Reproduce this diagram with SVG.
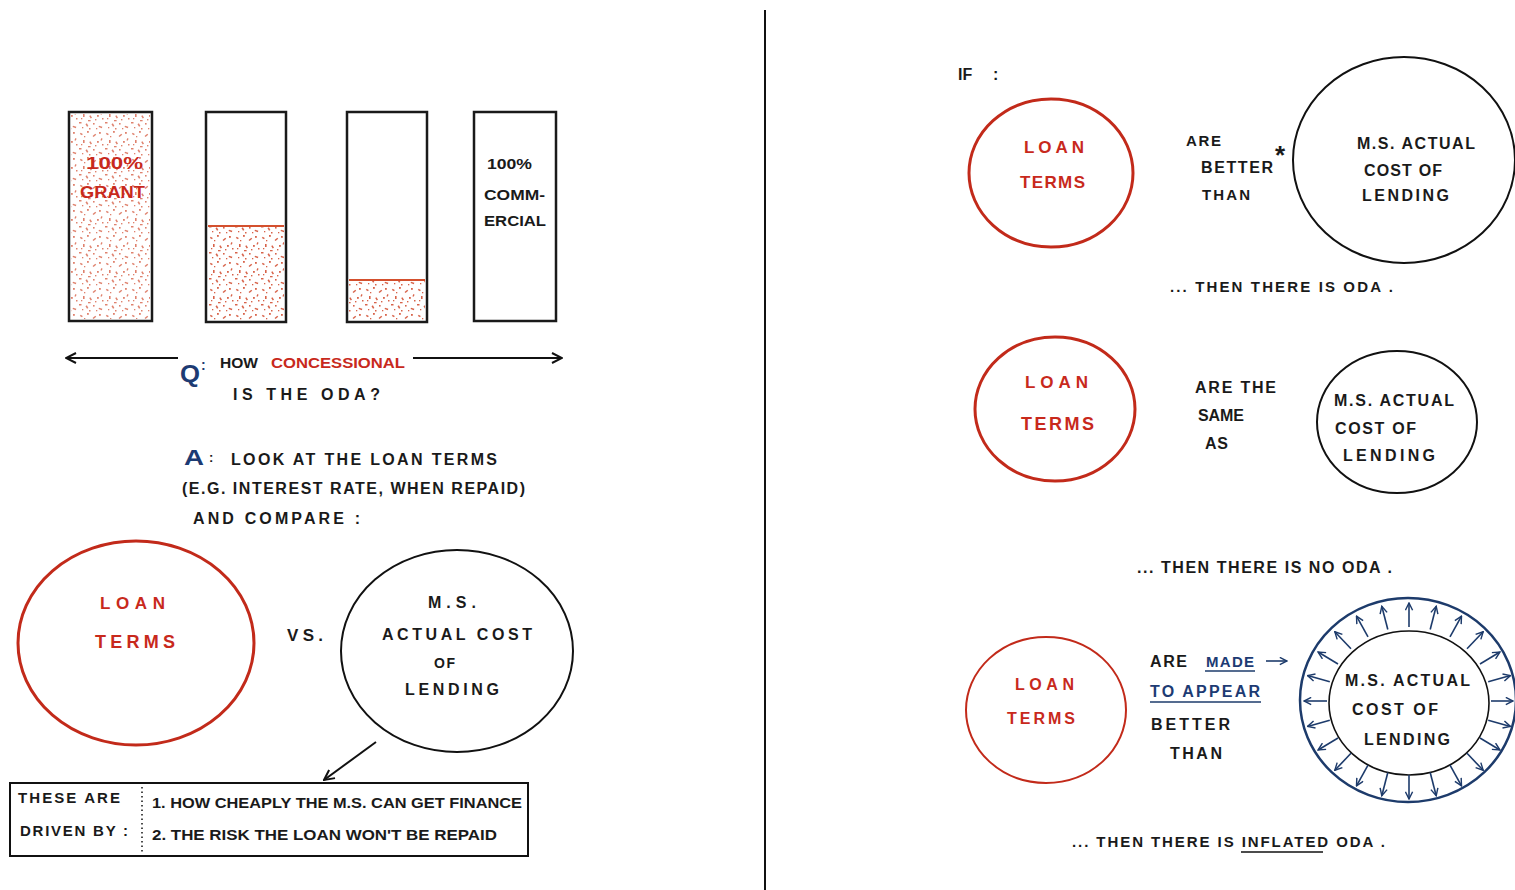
<svg xmlns="http://www.w3.org/2000/svg" width="1515" height="890" viewBox="0 0 1515 890">
<style>
.t{font-family:"Liberation Sans",Arial,sans-serif;font-weight:bold;fill:#1a1a1a;}
.r{fill:#c8291c;}
.b{fill:#1d3b73;}
.bar{fill:#fff;stroke:#1a1a1a;stroke-width:2.5;}
.rc{fill:none;stroke:#c22a1a;stroke-width:3;}
.kc{fill:none;stroke:#111;stroke-width:2;}
.ln{stroke:#111;stroke-width:2;fill:none;}
.bl{stroke:#1d3b6b;stroke-width:1.6;fill:none;}
</style>
<defs>
<pattern id="stip" width="26" height="26" patternUnits="userSpaceOnUse">
<g fill="#d0472a" opacity="0.85">
<rect x="2" y="3" width="2.5" height="1.6" transform="rotate(30 3 4)"/>
<rect x="9" y="1" width="1.8" height="1.8"/>
<rect x="15" y="5" width="3.5" height="1.5" transform="rotate(-40 16 6)"/>
<rect x="21" y="2" width="1.8" height="1.8"/>
<rect x="5" y="10" width="1.6" height="3"/>
<rect x="12" y="12" width="3" height="1.5" transform="rotate(60 13 12)"/>
<rect x="19" y="11" width="1.8" height="1.8"/>
<rect x="24" y="14" width="1.5" height="1.5"/>
<rect x="1" y="18" width="2.5" height="1.5"/>
<rect x="8" y="20" width="1.6" height="3" transform="rotate(-30 8 21)"/>
<rect x="15" y="19" width="1.6" height="1.6"/>
<rect x="21" y="22" width="3.5" height="1.5" transform="rotate(20 22 22)"/>
<rect x="11" y="24" width="1.5" height="1.5"/>
<rect x="17" y="15" width="1.4" height="1.4"/>
<rect x="6" y="6" width="1.3" height="1.3"/>
<rect x="23" y="8" width="1.3" height="2.4" transform="rotate(25 23 9)"/>
<rect x="3" y="14" width="1.3" height="1.3"/>
<rect x="10" y="16" width="2.6" height="1.3"/>
<rect x="4" y="23" width="1.3" height="1.3"/>
<rect x="18" y="24" width="1.3" height="1.3"/>
</g>
</pattern>
<marker id="ah" viewBox="0 0 12 12" refX="11" refY="6" markerWidth="12" markerHeight="12" markerUnits="userSpaceOnUse" orient="auto-start-reverse">
<path d="M1 1 L11 6 L1 11" fill="none" stroke="#111" stroke-width="2"/>
</marker>
<marker id="bh" viewBox="0 0 10 10" refX="9" refY="5" markerWidth="9" markerHeight="9" markerUnits="userSpaceOnUse" orient="auto">
<path d="M1 1 L9 5 L1 9" fill="none" stroke="#1d3b6b" stroke-width="1.6"/>
</marker>
</defs>
<rect width="1515" height="890" fill="#fff"/>
<line x1="765" y1="10" x2="765" y2="890" stroke="#111" stroke-width="2"/>

<g id="bar1">
<rect class="bar" x="69" y="112" width="83" height="209"/>
<rect x="71" y="114" width="79" height="205" fill="url(#stip)" opacity="0.8"/>
<text class="t r" x="86" y="169" font-size="16" textLength="57" lengthAdjust="spacingAndGlyphs">100%</text>
<text class="t r" x="80" y="198" font-size="16" textLength="65" lengthAdjust="spacingAndGlyphs">GRANT</text>
</g>
<g id="bar2">
<rect class="bar" x="206" y="112" width="80" height="210"/>
<rect x="208" y="226" width="76" height="94" fill="url(#stip)"/>
<line x1="208" y1="226" x2="284" y2="226" stroke="#d4502e" stroke-width="2"/>
</g>
<g id="bar3">
<rect class="bar" x="347" y="112" width="80" height="210"/>
<rect x="349" y="280" width="76" height="40" fill="url(#stip)"/>
<line x1="349" y1="280" x2="425" y2="280" stroke="#d4502e" stroke-width="2"/>
</g>
<g id="bar4">
<rect class="bar" x="474" y="112" width="82" height="209"/>
<text class="t" x="487" y="169" font-size="14" textLength="45" lengthAdjust="spacingAndGlyphs">100%</text>
<text class="t" x="484" y="200" font-size="14" textLength="61" lengthAdjust="spacingAndGlyphs">COMM-</text>
<text class="t" x="484" y="226" font-size="14" textLength="62" lengthAdjust="spacingAndGlyphs">ERCIAL</text>
</g>

<g id="question">
<text class="t b" x="180" y="382" font-size="24" textLength="20" lengthAdjust="spacingAndGlyphs">Q</text>
<text class="t b" x="201" y="370" font-size="14">:</text>
<text class="t" x="220" y="368" font-size="14" textLength="38" lengthAdjust="spacingAndGlyphs">HOW</text>
<text class="t r" x="271" y="368" font-size="14" textLength="134" lengthAdjust="spacingAndGlyphs">CONCESSIONAL</text>
<text class="t" x="233" y="400" font-size="16" textLength="147" lengthAdjust="spacing">IS THE ODA?</text>
</g>
<g id="answer">
<text class="t b" x="184" y="465" font-size="22" textLength="20" lengthAdjust="spacingAndGlyphs">A</text>
<text class="t" x="209" y="462" font-size="13">:</text>
<text class="t" x="231" y="465" font-size="16" textLength="266" lengthAdjust="spacing">LOOK AT THE LOAN TERMS</text>
<text class="t" x="182" y="494" font-size="16" textLength="343" lengthAdjust="spacing">(E.G. INTEREST RATE, WHEN REPAID)</text>
<text class="t" x="193" y="524" font-size="16" textLength="167" lengthAdjust="spacing">AND COMPARE :</text>
</g>

<g id="loan-terms-left">
<ellipse class="rc" cx="136" cy="643" rx="118" ry="102"/>
<text class="t r" x="100" y="609" font-size="17" textLength="65" lengthAdjust="spacing">LOAN</text>
<text class="t r" x="95" y="648" font-size="18" textLength="80" lengthAdjust="spacing">TERMS</text>
</g>
<text class="t" x="287" y="641" font-size="17" textLength="36" lengthAdjust="spacing">VS.</text>
<g id="cost-left">
<ellipse class="kc" cx="457" cy="651" rx="116" ry="101"/>
<text class="t" x="428" y="608" font-size="16" textLength="48" lengthAdjust="spacing">M.S.</text>
<text class="t" x="382" y="640" font-size="16" textLength="150" lengthAdjust="spacing">ACTUAL COST</text>
<text class="t" x="434" y="668" font-size="14" textLength="21" lengthAdjust="spacing">OF</text>
<text class="t" x="405" y="695" font-size="16" textLength="94" lengthAdjust="spacing">LENDING</text>
</g>
<g id="drivers">
<rect x="10" y="783" width="518" height="73" fill="none" stroke="#111" stroke-width="2"/>
<line x1="142" y1="787" x2="142" y2="852" stroke="#111" stroke-width="1.5" stroke-dasharray="1.5 3"/>
<text class="t" x="18" y="803" font-size="15" textLength="102" lengthAdjust="spacing">THESE ARE</text>
<text class="t" x="20" y="836" font-size="15" textLength="108" lengthAdjust="spacing">DRIVEN BY :</text>
<text class="t" x="152" y="808" font-size="15" textLength="370" lengthAdjust="spacingAndGlyphs">1. HOW CHEAPLY THE M.S. CAN GET FINANCE</text>
<text class="t" x="152" y="840" font-size="15" textLength="345" lengthAdjust="spacingAndGlyphs">2. THE RISK THE LOAN WON'T BE REPAID</text>
</g>

<g id="if-label"><text class="t" x="958" y="80" font-size="16"><tspan>IF</tspan><tspan x="993">:</tspan></text></g>

<g id="loan1">
<ellipse class="rc" cx="1051" cy="173" rx="82" ry="74"/>
<text class="t r" x="1024" y="153" font-size="17" textLength="60" lengthAdjust="spacing">LOAN</text>
<text class="t r" x="1020" y="188" font-size="17" textLength="65" lengthAdjust="spacing">TERMS</text>
</g>
<g id="rel1">
<text class="t" x="1186" y="146" font-size="15" textLength="35" lengthAdjust="spacing">ARE</text>
<text class="t" x="1201" y="173" font-size="16" textLength="72" lengthAdjust="spacing">BETTER</text>
<text class="t" x="1202" y="200" font-size="15" textLength="48" lengthAdjust="spacing">THAN</text>
<text class="t" x="1275" y="164" font-size="26">*</text>
</g>
<g id="cost1">
<ellipse class="kc" cx="1404" cy="160" rx="111" ry="103"/>
<text class="t" x="1357" y="149" font-size="16" textLength="118" lengthAdjust="spacing">M.S. ACTUAL</text>
<text class="t" x="1364" y="176" font-size="16" textLength="78" lengthAdjust="spacing">COST OF</text>
<text class="t" x="1362" y="201" font-size="16" textLength="87" lengthAdjust="spacing">LENDING</text>
</g>
<g id="result1"><text class="t" x="1170" y="292" font-size="15" textLength="223" lengthAdjust="spacing">... THEN THERE IS ODA .</text></g>

<g id="loan2">
<ellipse class="rc" cx="1055" cy="409" rx="80" ry="72"/>
<text class="t r" x="1025" y="388" font-size="17" textLength="63" lengthAdjust="spacing">LOAN</text>
<text class="t r" x="1021" y="430" font-size="18" textLength="73" lengthAdjust="spacing">TERMS</text>
</g>
<g id="rel2">
<text class="t" x="1195" y="393" font-size="16" textLength="81" lengthAdjust="spacing">ARE THE</text>
<text class="t" x="1198" y="421" font-size="16" textLength="46" lengthAdjust="spacing">SAME</text>
<text class="t" x="1205" y="449" font-size="16" textLength="23" lengthAdjust="spacing">AS</text>
</g>
<g id="cost2">
<ellipse class="kc" cx="1397" cy="422" rx="80" ry="71"/>
<text class="t" x="1334" y="406" font-size="16" textLength="120" lengthAdjust="spacing">M.S. ACTUAL</text>
<text class="t" x="1335" y="434" font-size="16" textLength="81" lengthAdjust="spacing">COST OF</text>
<text class="t" x="1343" y="461" font-size="16" textLength="92" lengthAdjust="spacing">LENDING</text>
</g>
<g id="result2"><text class="t" x="1137" y="573" font-size="16" textLength="255" lengthAdjust="spacing">... THEN THERE IS NO ODA .</text></g>

<g id="loan3">
<ellipse cx="1046" cy="710" rx="80" ry="73" fill="none" stroke="#c22a1a" stroke-width="2"/>
<text class="t r" x="1015" y="690" font-size="16" textLength="59" lengthAdjust="spacing">LOAN</text>
<text class="t r" x="1007" y="724" font-size="16" textLength="68" lengthAdjust="spacing">TERMS</text>
</g>
<g id="rel3">
<text class="t" x="1150" y="667" font-size="16" textLength="37" lengthAdjust="spacing">ARE</text>
<text class="t b" x="1206" y="667" font-size="15" textLength="48" lengthAdjust="spacing">MADE</text>
<line class="bl" x1="1205" y1="671" x2="1255" y2="671"/>
<text class="t b" x="1150" y="697" font-size="16" textLength="110" lengthAdjust="spacing">TO APPEAR</text>
<line class="bl" x1="1150" y1="702" x2="1261" y2="702"/>
<text class="t" x="1151" y="730" font-size="16" textLength="79" lengthAdjust="spacing">BETTER</text>
<text class="t" x="1170" y="759" font-size="16" textLength="52" lengthAdjust="spacing">THAN</text>
</g>
<g id="cost3">
<ellipse cx="1408" cy="700" rx="108" ry="102" fill="none" stroke="#1d3b6b" stroke-width="2.5"/>
<ellipse cx="1409" cy="703" rx="80" ry="72" fill="none" stroke="#111" stroke-width="1.6"/>
<text class="t" x="1345" y="686" font-size="16" textLength="125" lengthAdjust="spacing">M.S. ACTUAL</text>
<text class="t" x="1352" y="715" font-size="16" textLength="86" lengthAdjust="spacing">COST OF</text>
<text class="t" x="1364" y="745" font-size="16" textLength="86" lengthAdjust="spacing">LENDING</text>
</g>
<g id="result3">
<text class="t" x="1072" y="847" font-size="15" textLength="313" lengthAdjust="spacing">... THEN THERE IS INFLATED ODA .</text>
<line x1="1241" y1="852" x2="1323" y2="852" stroke="#111" stroke-width="1.5"/>
</g>

<g id="connectors">
<line class="ln" x1="66" y1="358" x2="178" y2="358" marker-start="url(#ah)"/>
<line class="ln" x1="413" y1="358" x2="562" y2="358" marker-end="url(#ah)"/>
<line class="ln" x1="376" y1="742" x2="324" y2="780" marker-end="url(#ah)"/>
<line class="bl" x1="1266" y1="661" x2="1287" y2="661" marker-end="url(#bh)"/>
<g marker-end="url(#bh)">
<line class="bl" x1="1491" y1="701" x2="1513" y2="701"/>
<line class="bl" x1="1488.2" y1="720.2" x2="1510.4" y2="726.4"/>
<line class="bl" x1="1480" y1="738" x2="1499.9" y2="750"/>
<line class="bl" x1="1467" y1="753.3" x2="1483.2" y2="770.3"/>
<line class="bl" x1="1450" y1="765.1" x2="1461.5" y2="785.9"/>
<line class="bl" x1="1430.2" y1="772.5" x2="1436.2" y2="795.7"/>
<line class="bl" x1="1409" y1="775" x2="1409" y2="799"/>
<line class="bl" x1="1387.8" y1="772.5" x2="1381.8" y2="795.7"/>
<line class="bl" x1="1368" y1="765.1" x2="1356.5" y2="785.9"/>
<line class="bl" x1="1351" y1="753.3" x2="1334.8" y2="770.3"/>
<line class="bl" x1="1338" y1="738" x2="1318.1" y2="750"/>
<line class="bl" x1="1329.8" y1="720.2" x2="1307.6" y2="726.4"/>
<line class="bl" x1="1327" y1="701" x2="1304" y2="701"/>
<line class="bl" x1="1329.8" y1="681.8" x2="1307.6" y2="675.6"/>
<line class="bl" x1="1338" y1="664" x2="1318.1" y2="652"/>
<line class="bl" x1="1351" y1="648.7" x2="1334.8" y2="631.7"/>
<line class="bl" x1="1368" y1="636.9" x2="1356.5" y2="616.1"/>
<line class="bl" x1="1387.8" y1="629.5" x2="1381.8" y2="606.3"/>
<line class="bl" x1="1409" y1="627" x2="1409" y2="603"/>
<line class="bl" x1="1430.2" y1="629.5" x2="1436.2" y2="606.3"/>
<line class="bl" x1="1450" y1="636.9" x2="1461.5" y2="616.1"/>
<line class="bl" x1="1467" y1="648.7" x2="1483.2" y2="631.7"/>
<line class="bl" x1="1480" y1="664" x2="1499.9" y2="652"/>
<line class="bl" x1="1488.2" y1="681.8" x2="1510.4" y2="675.6"/>
</g>
</g>
</svg>
